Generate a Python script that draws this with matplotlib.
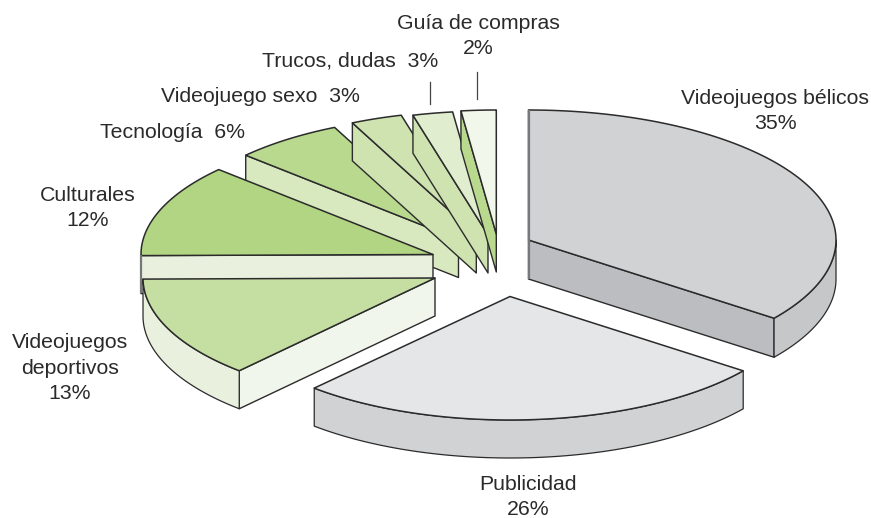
import numpy as np
import matplotlib
matplotlib.use("Agg")
import matplotlib.pyplot as plt
from matplotlib.patches import Polygon

# --- data ---
names = ["Videojuegos bélicos", "Publicidad", "Videojuegos deportivos", "Culturales",
         "Tecnología", "Videojuego sexo", "Trucos, dudas", "Guía de compras"]
values = [35, 26, 13, 12, 6, 3, 3, 2]

# --- styling / layout (drawing geometry, not data) ---
apex = [(528.5, 240), (510, 296.5), (435, 278), (433, 254.5),
        (458.5, 239.5), (476.3, 235), (488, 235), (496.3, 234)]
rx = [307.5, 292, 292, 292, 290, 290, 290, 290]
ry = [130, 123.5, 125, 125, 124, 124, 124, 124]
depth = [39, 38, 38, 38, 38, 38, 38, 38]
# the original's perspective bends slice boundaries by a few degrees
bend = [0, 1, 2.5, 3.1, 3.2, 3.5, 3.0, 0.2, 0]
top_col = ["#d0d2d4", "#e5e6e8", "#c5dfa3", "#b2d583", "#b9d98f", "#cfe3b0", "#e0edce", "#f1f7ea"]
radial_col = ["#bcbdc0", None, "#f1f6ec", "#e9f1de", "#d8e9c0", "#cfe3b0", "#cfe3b0", "#b9d98f"]
outer_col = ["#c6c7c9", "#d0d2d4", "#e9f1de", None, None, None, None, None]
order = [0, 1, 4, 5, 6, 7, 3, 2]
EDGE = "#2b2b2b"
TXT = "#2a2a2a"
FS = 15.3
LS = 1.45

plt.rcParams["font.family"] = ["Liberation Sans", "DejaVu Sans"]
fig = plt.figure(figsize=(8.71, 5.18), dpi=100)
ax = fig.add_axes([0, 0, 1, 1])
ax.set_xlim(0, 871)
ax.set_ylim(518, 0)
ax.axis("off")

cum = np.concatenate([[0], np.cumsum(values)])
angles = cum / cum[-1] * 360 + np.array(bend)


def pt(i, deg):
    t = np.radians(deg)
    return np.column_stack([apex[i][0] + rx[i] * np.sin(t), apex[i][1] - ry[i] * np.cos(t)])


def poly(xy, fc, lw=1.0, ec=EDGE):
    ax.add_patch(Polygon(xy, closed=True, fc=fc, ec=ec, lw=lw, joinstyle="round"))


for i in order:
    a0, a1 = angles[i], angles[i + 1]
    A = np.array([apex[i]])
    d = np.array([[0, depth[i]]])
    # radial side face
    if radial_col[i]:
        corner = pt(i, a1 if i == 0 else a0)
        poly(np.vstack([A, corner, corner + d, A + d]), radial_col[i], lw=1.0)
    # outer rim
    if outer_col[i]:
        lo = max(a0, 90) if i == 0 else a0
        arc = pt(i, np.linspace(lo, a1, 90))
        poly(np.vstack([arc, (arc + d)[::-1]]), outer_col[i], lw=0.9)
    # top face
    arc = pt(i, np.linspace(a0, a1, 120))
    poly(np.vstack([A, arc]), top_col[i], lw=1.1)

# grey vertical seams
x0, y0 = apex[0]
ax.plot([x0, x0], [y0 - ry[0], y0 + depth[0]], color="#77787b", lw=1.6, solid_capstyle="butt")
ax.plot([apex[3][0] - rx[3]] * 2, [apex[3][1], apex[3][1] + depth[3]], color="#77787b", lw=1.6,
        solid_capstyle="butt", zorder=1.5)


# labels
def lab(idx, x, y, template):
    ax.text(x, y, template.format(n=names[idx], v=values[idx]), ha="center", va="center",
            fontsize=FS, color=TXT, linespacing=LS)


lab(0, 775, 111, "{n}\n{v}%")
lab(1, 528, 497, "{n}\n{v}%")
ax.text(70, 368, "Videojuegos\ndeportivos\n13%", ha="center", va="center", fontsize=FS,
        color=TXT, linespacing=LS)
lab(3, 88, 208, "{n}\n{v}%")
lab(4, 172, 133, "{n}  {v}%")
lab(5, 260, 96, "{n}  {v}%")
lab(6, 350, 61, "{n}  {v}%")
lab(7, 478, 36, "{n}\n{v}%")

# leader lines
ax.plot([430, 430], [82, 104], color="#444444", lw=0.9)
ax.plot([477, 477], [72, 99], color="#444444", lw=0.9)

fig.savefig("out.png", dpi=100)
